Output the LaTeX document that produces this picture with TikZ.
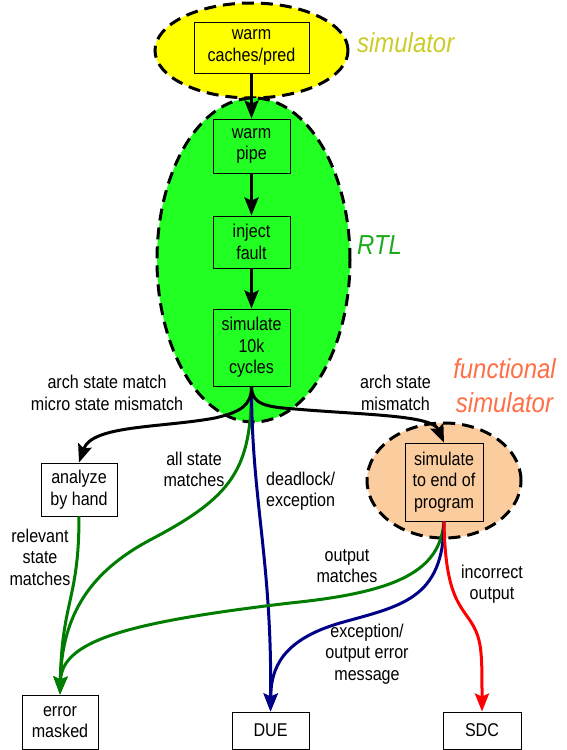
\documentclass[tikz,border=0pt]{standalone}
\usepackage{fontspec}
\setmainfont[FakeStretch=0.87]{Liberation Sans}
\usetikzlibrary{arrows.meta,shapes.geometric}
\definecolor{ylw}{RGB}{255,255,0}
\definecolor{grn}{RGB}{34,255,34}
\definecolor{org}{RGB}{251,204,158}
\definecolor{ylwtxt}{RGB}{204,204,40}
\definecolor{rtltxt}{RGB}{30,170,30}
\definecolor{functxt}{RGB}{255,110,70}
\definecolor{egreen}{RGB}{0,125,0}
\definecolor{eblue}{RGB}{0,0,135}
\definecolor{ered}{RGB}{255,0,0}
\begin{document}
\begin{tikzpicture}[x=1pt,y=-1pt,
  region/.style={ellipse,draw=black,line width=3pt,dash pattern=on 12pt off 7pt,inner sep=0pt},
  box/.style={draw=black,line width=0.9pt,align=center,inner sep=0pt,font=\fontsize{18.5}{21.5}\selectfont},
  flow/.style={line width=3pt,-{Stealth[length=18pt,width=14pt,inset=3pt]}},
  lbl/.style={align=center,font=\fontsize{18.5}{21.5}\selectfont,inner sep=0pt},
  big/.style={align=center,font=\fontsize{27.5}{34}\selectfont\itshape,inner sep=0pt}]
\useasboundingbox (0,0) rectangle (567,750);

% regions
\node[region,fill=ylw,minimum width=193pt,minimum height=95pt] (simreg) at (251.5,50.5) {};
\node[region,fill=grn,minimum width=193pt,minimum height=324pt] (rtlreg) at (253.5,260) {};
\node[region,fill=org,minimum width=154pt,minimum height=115pt] (funcreg) at (444,480.5) {};

% region labels
\node[big,text=ylwtxt,anchor=west] (simlbl) at (357,43) {simulator};
\node[big,text=rtltxt,anchor=west] (rtllbl) at (357,245) {RTL};
\node[big,text=functxt] (funclbl) at (504.5,386) {functional\\simulator};

% boxes
\node[box,fill=ylw,minimum width=115pt,minimum height=51pt] (caches) at (251.5,47.5) {warm\\caches/pred};
\node[box,fill=grn,minimum width=77pt,minimum height=54pt] (pipe) at (251.5,146) {warm\\pipe};
\node[box,fill=grn,minimum width=77pt,minimum height=52pt] (inject) at (251.5,242) {inject\\fault};
\node[box,fill=grn,minimum width=77pt,minimum height=77pt] (sim) at (251.5,347.5) {simulate\\10k\\cycles};
\node[box,fill=white,minimum width=76pt,minimum height=53pt] (analyze) at (79,489.5) {analyze\\by hand};
\node[box,fill=org,minimum width=78pt,minimum height=78pt] (program) at (444,482) {simulate\\to end of\\program};
\node[box,fill=white,minimum width=76pt,minimum height=54pt] (masked) at (60,722) {error\\masked};
\node[box,fill=white,minimum width=77pt,minimum height=37pt] (due) at (270.5,730.5) {DUE};
\node[box,fill=white,minimum width=78pt,minimum height=37pt] (sdc) at (482,730.5) {SDC};

% straight flow
\draw[flow,black] (caches.south) -- (pipe.north);
\draw[flow,black] (pipe.south) -- (inject.north);
\draw[flow,black] (inject.south) -- (sim.north);

% from simulate 10k cycles
\draw[flow,egreen] (sim.south) .. controls (251.5,470) and (232,497) .. (150,540)
  .. controls (90,572) and (62,615) .. (masked.north);
\draw[flow,eblue] (sim.south) .. controls (251.5,500) and (272,560) .. (due.north);
\draw[flow,black] (sim.south) .. controls (251.5,406) and (240,412) .. (215,418)
  .. controls (160,428) and (92,425) .. (analyze.north);
\draw[flow,black] (sim.south) .. controls (251.5,404) and (265,407) .. (295,409)
  .. controls (365,415) and (432,415) .. (program.north);

% from analyze
\draw[flow,egreen] (analyze.south) .. controls (79,600) and (62,600) .. (masked.north);

% from program
\draw[flow,egreen] (program.south) .. controls (440,570) and (400,592) .. (290,603)
  .. controls (130,622) and (62,640) .. (masked.north);
\draw[flow,eblue] (program.south) .. controls (444,600) and (400,606) .. (340,623)
  .. controls (282,640) and (271,668) .. (due.north);
\draw[flow,ered] (program.south) .. controls (445,590) and (458,603) .. (469,619)
  .. controls (482,638) and (482,650) .. (sdc.north);

% edge labels
\node[lbl] (l1) at (107,393) {arch state match\\micro state mismatch};
\node[lbl] (l2) at (395.5,393) {arch state\\mismatch};
\node[lbl] (l3) at (194,469.5) {all state\\matches};
\node[lbl,align=left,anchor=west] (l4) at (266,491) {deadlock/\\exception};
\node[lbl] (l5) at (40,557) {relevant\\state\\matches};
\node[lbl] (l6) at (347,566) {output\\matches};
\node[lbl] (l7) at (492,584) {incorrect\\output};
\node[lbl] (l8) at (367,654) {exception/\\output error\\message};
\end{tikzpicture}
\end{document}
